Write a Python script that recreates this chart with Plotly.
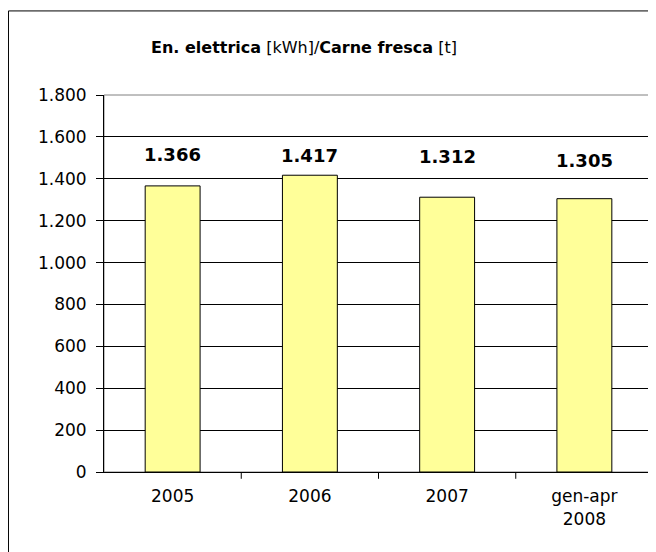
import plotly.graph_objects as go

# data
periods = ["2005", "2006", "2007", "gen-apr<br>2008"]
kwh_per_t = [1366, 1417, 1312, 1305]
value_labels = ["1.366", "1.417", "1.312", "1.305"]
y_ticks = [0, 200, 400, 600, 800, 1000, 1200, 1400, 1600, 1800]
y_tick_text = ["0", "200", "400", "600", "800", "1.000", "1.200", "1.400", "1.600", "1.800"]

# label offsets above the bars (Excel placed them unevenly)
label_shift = [31, 20, 41, 38]

font = "DejaVu Sans"

fig = go.Figure()
fig.add_trace(go.Bar(
    x=list(range(len(periods))), y=kwh_per_t,
    marker=dict(color="#FFFF99", line=dict(color="black", width=1)),
    hoverinfo="skip",
))

for i, (v, lab, s) in enumerate(zip(kwh_per_t, value_labels, label_shift)):
    fig.add_annotation(x=i, y=v, text="<b>" + lab + "</b>", showarrow=False,
                       yshift=s, yanchor="middle",
                       font=dict(family=font, size=18, color="black"))

title = "<b>En. elettrica</b> [kWh]/<b>Carne fresca</b> [t]"
fig.add_annotation(xref="paper", yref="paper", x=0.364, y=1.127,
                   text=title, showarrow=False, xanchor="center", yanchor="middle",
                   font=dict(family=font, size=16, color="black"))

# plot area frame (grey) and the chart-area frame cut off at right/bottom
fig.add_shape(type="rect", xref="paper", yref="paper", x0=0, x1=1, y0=0, y1=1,
              line=dict(color="#808080", width=1), layer="below")
fig.add_shape(type="line", xref="paper", yref="paper", x0=-0.174, x1=1.2, y0=1.223, y1=1.223,
              line=dict(color="black", width=1))
fig.add_shape(type="line", xref="paper", yref="paper", x0=-0.174, x1=-0.174, y0=1.223, y1=-0.3,
              line=dict(color="black", width=1))

fig.update_layout(
    width=656, height=552,
    margin=dict(l=96, r=11, t=87, b=88),
    paper_bgcolor="white", plot_bgcolor="white",
    bargap=0.6, showlegend=False,
    font=dict(family=font, size=17, color="black"),
)
fig.update_xaxes(
    range=[-0.5, 3.5], tickvals=list(range(len(periods))), ticktext=periods,
    showgrid=False, showline=True, linecolor="black", linewidth=1,
    ticks="", ticklabelstandoff=9, tickfont=dict(size=17), zeroline=False,
)
fig.update_yaxes(
    range=[0, 1800], tickvals=y_ticks, ticktext=y_tick_text,
    showgrid=True, gridcolor="black", gridwidth=1,
    showline=True, linecolor="black", linewidth=1,
    ticks="outside", ticklen=7, tickcolor="black", ticklabelstandoff=6,
    tickfont=dict(size=17), zeroline=False,
)

# tick marks between categories on the x axis
for b in [0.5, 1.5, 2.5, 3.5]:
    fig.add_shape(type="line", xref="x", yref="paper", x0=b, x1=b, y0=0, y1=-0.018,
                  line=dict(color="black", width=1))

fig.write_html("out.html")
